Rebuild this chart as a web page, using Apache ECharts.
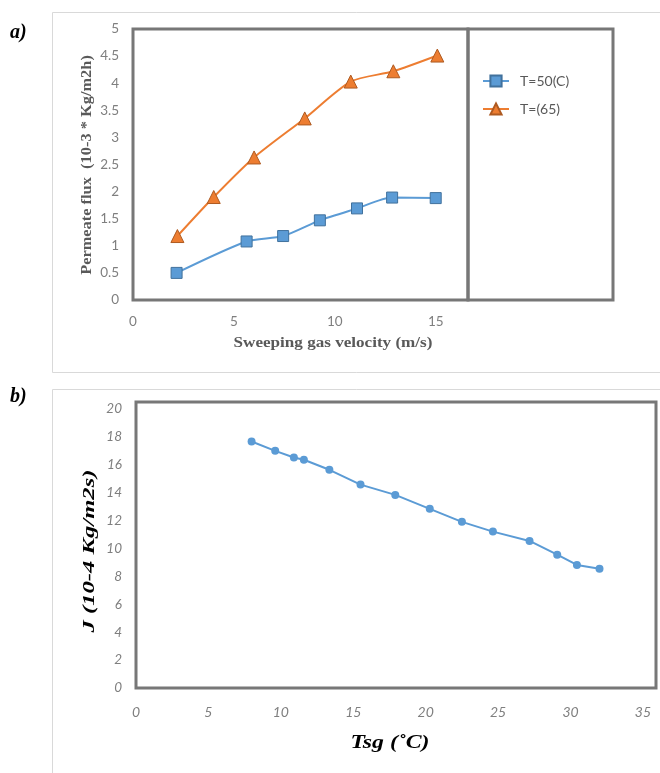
<!DOCTYPE html>
<html>
<head>
<meta charset="utf-8">
<script src="https://cdn.jsdelivr.net/npm/echarts@6/dist/echarts.min.js"></script>
<style>
  html, body { margin: 0; padding: 0; background: #ffffff; }
  #chart { width: 660px; height: 773px; }
</style>
</head>
<body>
<div id="chart"></div>
<script>
// Panel a: permeate flux vs sweeping gas velocity, two temperatures
var velocityT50 = [2.16, 5.63, 7.44, 9.26, 11.1, 12.84, 15.0];
var fluxT50     = [0.50, 1.08, 1.18, 1.47, 1.69, 1.89, 1.88];
var velocityT65 = [2.2, 4.0, 6.0, 8.51, 10.79, 12.9, 15.08];
var fluxT65     = [1.18, 1.90, 2.63, 3.35, 4.03, 4.22, 4.51];
var seriesNames = ['T=50(C)', 'T=(65)'];

// Panel b: flux J vs sweeping gas temperature
var tsg   = [7.98, 9.61, 10.9, 11.59, 13.35, 15.5, 17.9, 20.28, 22.5, 24.64, 27.17, 29.08, 30.44, 32.0];
var jFlux = [17.67, 17.0, 16.52, 16.36, 15.64, 14.58, 13.84, 12.84, 11.91, 11.21, 10.54, 9.56, 8.82, 8.54];

function pairs(xs, ys) {
  return xs.map(function (x, i) { return [x, ys[i]]; });
}

var frameColor = '#777777';
var labelColor = '#7f7f7f';
var titleColor = '#595959';
var sansFont = 'Lato, "Open Sans", sans-serif';
var serifFont = '"Liberation Serif", "DejaVu Serif", serif';

var chart = echarts.init(document.getElementById('chart'));

chart.setOption({
  backgroundColor: '#ffffff',
  animation: false,
  grid: [
    { left: 133, top: 29, width: 335, height: 271, show: true,
      borderColor: frameColor, borderWidth: 3, backgroundColor: '#ffffff', z: 1 },
    { left: 136, top: 402, width: 520, height: 286, show: true,
      borderColor: frameColor, borderWidth: 3, backgroundColor: '#ffffff', z: 1 }
  ],
  xAxis: [
    { type: 'value', gridIndex: 0, min: 0, max: 16.6, interval: 5,
      axisLine: { show: false }, axisTick: { show: false }, splitLine: { show: false },
      axisLabel: { margin: 15, color: labelColor, fontSize: 13.5, fontFamily: sansFont,
        formatter: function (v) { return v % 5 === 0 ? String(v) : ''; } } },
    { type: 'value', gridIndex: 1, min: 0, max: 35.9, interval: 5,
      axisLine: { show: false }, axisTick: { show: false }, splitLine: { show: false },
      axisLabel: { margin: 17, color: labelColor, fontSize: 14, fontStyle: 'italic', fontFamily: sansFont,
        formatter: function (v) { return v % 5 === 0 ? String(v) : ''; } } }
  ],
  yAxis: [
    { type: 'value', gridIndex: 0, min: 0, max: 5, interval: 0.5,
      axisLine: { show: false }, axisTick: { show: false }, splitLine: { show: false },
      axisLabel: { margin: 14, color: labelColor, fontSize: 13.5, fontFamily: sansFont } },
    { type: 'value', gridIndex: 1, min: 0, max: 20.5, interval: 2,
      axisLine: { show: false }, axisTick: { show: false }, splitLine: { show: false },
      axisLabel: { margin: 14, color: labelColor, fontSize: 13.5, fontStyle: 'italic', fontFamily: sansFont,
        formatter: function (v) { return v % 2 === 0 ? String(v) : ''; } } }
  ],
  legend: {
    data: seriesNames,
    orient: 'vertical',
    left: 482,
    top: 74,
    padding: 0,
    itemWidth: 26,
    itemHeight: 14,
    itemGap: 14,
    textStyle: { color: titleColor, fontSize: 14, fontFamily: sansFont, padding: [0, 0, 0, 6] }
  },
  graphic: [
    // light outer boxes around each panel
    { type: 'rect', shape: { x: 52.5, y: 12.5, width: 640, height: 360 },
      style: { fill: 'none', stroke: '#d9d9d9', lineWidth: 1 }, z: 0 },
    { type: 'rect', shape: { x: 52.5, y: 389.5, width: 640, height: 420 },
      style: { fill: 'none', stroke: '#d9d9d9', lineWidth: 1 }, z: 0 },
    // legend box of panel a
    { type: 'rect', shape: { x: 468, y: 29, width: 145, height: 271 },
      style: { fill: 'none', stroke: frameColor, lineWidth: 3 }, z: 5 },
    // panel letters
    { type: 'text', x: 10, y: 33,
      style: { text: 'a)', font: 'italic bold 20px ' + serifFont, fill: '#000000',
        verticalAlign: 'middle' } },
    { type: 'text', x: 10, y: 397,
      style: { text: 'b)', font: 'italic bold 20px ' + serifFont, fill: '#000000',
        verticalAlign: 'middle' } },
    // axis titles, panel a
    { type: 'text', x: 87, y: 165, rotation: Math.PI / 2, scaleX: 1.17,
      style: { text: 'Permeate flux  (10-3 * Kg/m2h)', font: 'bold 14px ' + serifFont,
        fill: titleColor, align: 'center', verticalAlign: 'middle' } },
    { type: 'text', x: 333, y: 343, scaleX: 1.22,
      style: { text: 'Sweeping gas velocity (m/s)', font: 'bold 14px ' + serifFont,
        fill: titleColor, align: 'center', verticalAlign: 'middle' } },
    // axis titles, panel b
    { type: 'text', x: 90, y: 551, rotation: Math.PI / 2, scaleX: 1.45,
      style: { text: 'J (10-4 Kg/m2s)', font: 'italic bold 17px ' + serifFont,
        fill: '#000000', align: 'center', verticalAlign: 'middle' } },
    { type: 'text', x: 390, y: 743, scaleX: 1.25,
      style: { text: 'Tsg (˚C)', font: 'italic bold 19px ' + serifFont,
        fill: '#000000', align: 'center', verticalAlign: 'middle' } }
  ],
  series: [
    { name: seriesNames[0], type: 'line', xAxisIndex: 0, yAxisIndex: 0,
      data: pairs(velocityT50, fluxT50), smooth: 0.25,
      symbol: 'rect', symbolSize: 11,
      lineStyle: { color: '#5b9bd5', width: 2 },
      itemStyle: { color: '#5b9bd5', borderColor: '#41719c', borderWidth: 1 }, z: 3 },
    { name: seriesNames[1], type: 'line', xAxisIndex: 0, yAxisIndex: 0,
      data: pairs(velocityT65, fluxT65), smooth: 0.25,
      symbol: 'triangle', symbolSize: 13,
      lineStyle: { color: '#ed7d31', width: 2 },
      itemStyle: { color: '#ed7d31', borderColor: '#ae5a21', borderWidth: 1 }, z: 3 },
    { name: 'J', type: 'line', xAxisIndex: 1, yAxisIndex: 1,
      data: pairs(tsg, jFlux),
      symbol: 'circle', symbolSize: 8,
      lineStyle: { color: '#5b9bd5', width: 2 },
      itemStyle: { color: '#5b9bd5', borderColor: '#5b9bd5', borderWidth: 0 }, z: 3 }
  ]
});
</script>
</body>
</html>
